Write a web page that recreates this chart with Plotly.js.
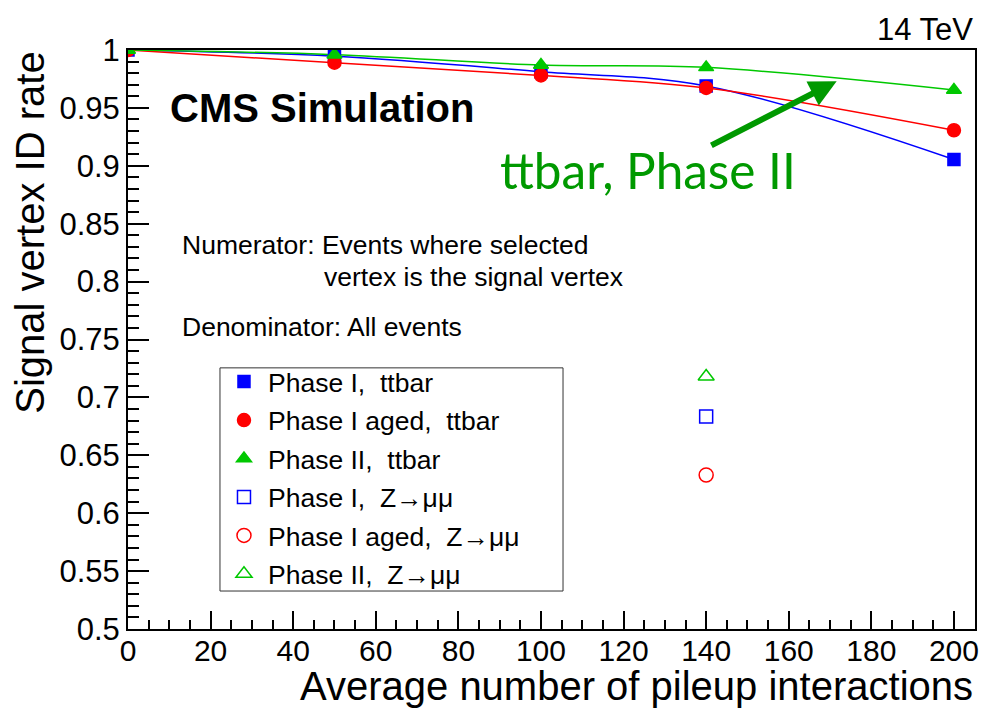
<!DOCTYPE html>
<html>
<head>
<meta charset="utf-8">
<script src="https://cdn.plot.ly/plotly-3.0.1.min.js"></script>
<style>html,body{margin:0;padding:0;background:#fff;}#chart{width:984px;height:709px;}</style>
</head>
<body>
<div id="chart"></div>
<script>
// ---- data ----
const pileup = [0, 50, 100, 140, 200];
const phaseI_ttbar = [1.0, 0.9946, 0.9812, 0.9690, 0.9054];
const phaseIaged_ttbar = [1.0, 0.9890, 0.9780, 0.9672, 0.9307];
const phaseII_ttbar = [1.0, 0.9960, 0.9870, 0.9850, 0.9655];
const zmm_pileup = [140];
const phaseI_zmm = [0.6835];
const phaseIaged_zmm = [0.6330];
const phaseII_zmm = [0.7180];
const legendNames = [
  'Phase I,  ttbar',
  'Phase I aged,  ttbar',
  'Phase II,  ttbar',
  'Phase I,  Z\u2192\u03bc\u03bc',
  'Phase I aged,  Z\u2192\u03bc\u03bc',
  'Phase II,  Z\u2192\u03bc\u03bc'
];
const BLUE = '#0000ff', RED = '#ff0000', GREEN = '#00c800';

function curve(y, color) {
  return {x: pileup, y: y, mode: 'lines', line: {color: color, width: 1.5, shape: 'spline', smoothing: 1},
          showlegend: false, hoverinfo: 'skip'};
}
function pts(x, y, name, color, symbol, size, g) {
  return {x: x, y: y, mode: 'markers', name: name, legendgroup: g,
          marker: {color: color, symbol: symbol, size: size, line: {color: color, width: 1.5}}};
}

const traces = [
  curve(phaseI_ttbar, BLUE),
  curve(phaseIaged_ttbar, RED),
  curve(phaseII_ttbar, GREEN),
  pts(pileup, phaseI_ttbar, legendNames[0], BLUE, 'square', 12, 'a'),
  pts(pileup, phaseIaged_ttbar, legendNames[1], RED, 'circle', 13, 'b'),
  pts(pileup, phaseII_ttbar, legendNames[2], GREEN, 'triangle-up', 13, 'c'),
  pts(zmm_pileup, phaseI_zmm, legendNames[3], BLUE, 'square-open', 13, 'd'),
  pts(zmm_pileup, phaseIaged_zmm, legendNames[4], RED, 'circle-open', 14, 'e'),
  pts(zmm_pileup, phaseII_zmm, legendNames[5], GREEN, 'triangle-up-open', 14, 'f')
];

const FONT = 'Liberation Sans, Arial, Helvetica, sans-serif';
const layout = {
  width: 984, height: 709,
  paper_bgcolor: '#fff', plot_bgcolor: '#fff',
  margin: {l: 128, r: 9, t: 50, b: 80},
  font: {family: FONT, color: '#000'},
  xaxis: {
    range: [0, 205.1], tick0: 0, dtick: 20, ticks: 'inside', ticklen: 18, tickwidth: 2, tickcolor: '#000',
    minor: {ticks: 'inside', dtick: 5, ticklen: 9, tickwidth: 2, tickcolor: '#000'},
    showline: true, linewidth: 2, linecolor: '#000', mirror: true,
    showgrid: false, zeroline: false, tickfont: {size: 30, family: FONT}, ticklabelstandoff: -6
  },
  yaxis: {
    range: [0.5, 1.0], tick0: 0.5, dtick: 0.05, ticks: 'inside', ticklen: 21, tickwidth: 2, tickcolor: '#000',
    minor: {ticks: 'inside', dtick: 0.01, ticklen: 11, tickwidth: 2, tickcolor: '#000'},
    showline: true, linewidth: 2, linecolor: '#000', mirror: true,
    showgrid: false, zeroline: false, tickfont: {size: 31, family: FONT}
  },
  showlegend: true,
  legend: {
    x: 0.1086, y: 0.4683, xanchor: 'left', yanchor: 'top',
    borderwidth: 0, bgcolor: 'rgba(0,0,0,0)',
    font: {size: 26.5, family: FONT}, tracegroupgap: 1, itemwidth: 38
  },
  shapes: [
    {type: 'rect', xref: 'paper', yref: 'paper', x0: 0.1086, x1: 0.5136, y0: 0.0656, y1: 0.451,
     line: {color: '#333', width: 1}, fillcolor: 'rgba(0,0,0,0)', layer: 'below'}
  ],
  annotations: [
    {text: 'Signal vertex ID rate', textangle: -90, xref: 'paper', yref: 'paper', x: -0.116, y: 1.0,
     xanchor: 'center', yanchor: 'top', showarrow: false, font: {size: 40, family: FONT}},
    {text: 'Average number of pileup interactions', xref: 'paper', yref: 'paper', x: 1.0, y: -0.0984,
     xanchor: 'right', yanchor: 'middle', showarrow: false, font: {size: 40, family: FONT}},
    {text: '14 TeV', xref: 'paper', yref: 'paper', x: 1.0, y: 1.036,
     xanchor: 'right', yanchor: 'middle', showarrow: false, font: {size: 31, family: FONT}},
    {text: '<b>CMS Simulation</b>', xref: 'paper', yref: 'paper', x: 0.0472, y: 0.8998,
     xanchor: 'left', yanchor: 'middle', showarrow: false, font: {size: 40, family: FONT}},
    {text: 'ttbar, Phase II', xref: 'paper', yref: 'paper', x: 0.437, y: 0.793,
     xanchor: 'left', yanchor: 'middle', showarrow: false, font: {size: 49.5, family: 'Lato, Open Sans, sans-serif', color: '#009900'}},
    {text: 'Numerator: Events where selected', xref: 'paper', yref: 'paper', x: 0.0614, y: 0.6632,
     xanchor: 'left', yanchor: 'middle', showarrow: false, font: {size: 26.5, family: FONT}},
    {text: 'vertex is the signal vertex', xref: 'paper', yref: 'paper', x: 0.229, y: 0.608,
     xanchor: 'left', yanchor: 'middle', showarrow: false, font: {size: 26.5, family: FONT}},
    {text: 'Denominator: All events', xref: 'paper', yref: 'paper', x: 0.0614, y: 0.5216,
     xanchor: 'left', yanchor: 'middle', showarrow: false, font: {size: 26.5, family: FONT}},
    {text: '', xref: 'x', yref: 'y', x: 171.6, y: 0.973, axref: 'x', ayref: 'y', ax: 140.9, ay: 0.917,
     showarrow: true, arrowhead: 2, arrowsize: 0.9, arrowwidth: 6, arrowcolor: '#009900'}
  ]
};

Plotly.newPlot('chart', traces, layout, {displayModeBar: false, staticPlot: true});
</script>
</body>
</html>
